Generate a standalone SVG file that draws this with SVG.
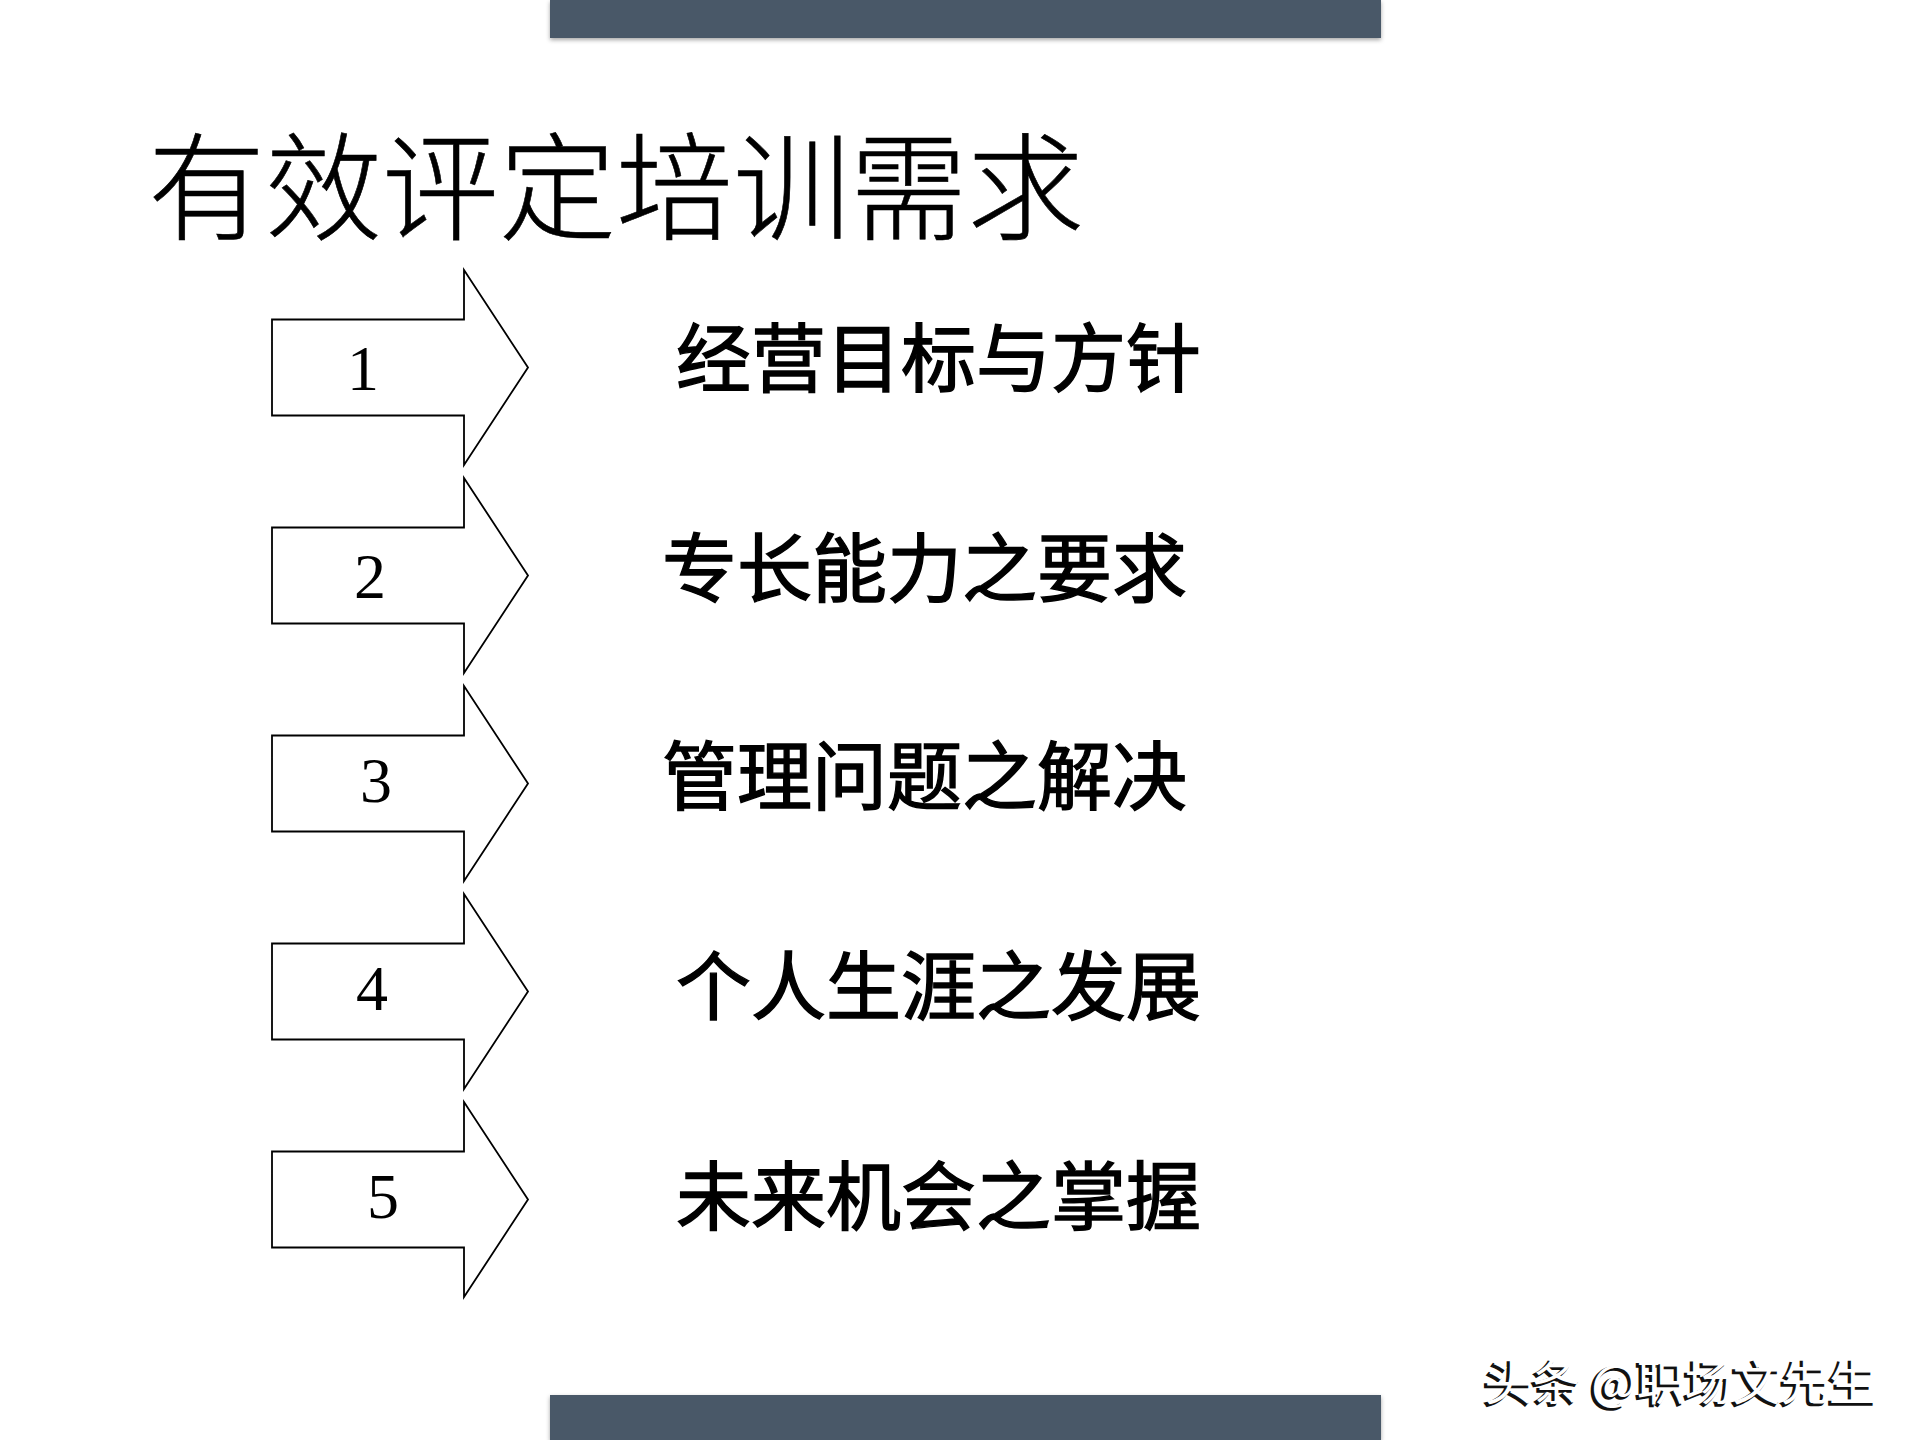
<svg xmlns="http://www.w3.org/2000/svg" width="1920" height="1440" viewBox="0 0 1920 1440">
<defs>
<style>
.bar{fill:#4a5868}
.arrow{fill:#ffffff;stroke:#000000;stroke-width:1.8;stroke-linejoin:miter}
.num{font-family:"Liberation Serif","Times New Roman",serif;font-size:64px;fill:#000;text-anchor:middle}
.item{font-family:"Noto Sans CJK SC","Noto Sans",sans-serif;font-size:75px;font-weight:normal;fill:#000;stroke:#000;stroke-width:1.4}
.title{font-family:"Noto Sans CJK SC","Noto Sans",sans-serif;font-size:117px;font-weight:300;fill:#000;stroke:#000;stroke-width:0.6}
.wm{font-family:"Noto Sans CJK SC","Noto Sans",sans-serif;font-size:48px;font-weight:normal}
</style>
<filter id="sh" x="-5%" y="-50%" width="110%" height="200%">
<feGaussianBlur in="SourceAlpha" stdDeviation="2"/>
<feOffset dy="2" result="b"/>
<feFlood flood-color="#000" flood-opacity="0.35"/>
<feComposite in2="b" operator="in"/>
<feMerge><feMergeNode/><feMergeNode in="SourceGraphic"/></feMerge>
</filter>
<path id="arr" d="M272,-48 H464 V-97.5 L528,0 L464,97.5 V48 H272 Z"/>
</defs>
<rect width="1920" height="1440" fill="#ffffff"/>
<g id="bars">
<rect class="bar" x="550" y="0" width="831" height="38" filter="url(#sh)"/>
<rect class="bar" x="550" y="1395" width="831" height="45" filter="url(#sh)"/>
</g>
<g id="title"><text class="title" x="148" y="231">有效评定培训需求</text></g>
<g id="node1">
<use href="#arr" class="arrow" transform="translate(0,367.5)"/>
<text class="num" x="363" y="390">1</text>
<text class="item" x="676" y="386">经营目标与方针</text>
</g>
<g id="node2">
<use href="#arr" class="arrow" transform="translate(0,575.5)"/>
<text class="num" x="370" y="598">2</text>
<text class="item" x="662" y="596">专长能力之要求</text>
</g>
<g id="node3">
<use href="#arr" class="arrow" transform="translate(0,783.5)"/>
<text class="num" x="376" y="802">3</text>
<text class="item" x="662" y="804">管理问题之解决</text>
</g>
<g id="node4">
<use href="#arr" class="arrow" transform="translate(0,991.5)"/>
<text class="num" x="372" y="1010">4</text>
<text class="item" x="676" y="1014">个人生涯之发展</text>
</g>
<g id="node5">
<use href="#arr" class="arrow" transform="translate(0,1199.5)"/>
<text class="num" x="383" y="1218">5</text>
<text class="item" x="676" y="1224">未来机会之掌握</text>
</g>
<g id="connectors"></g>
<g id="watermark">
<text class="wm" x="1482" y="1402" fill="#111" stroke="#111" stroke-width="1.5">头条 @职场文先生</text>
<text class="wm" x="1484.5" y="1399.5" fill="#ffffff">头条 @职场文先生</text>
</g>
</svg>
